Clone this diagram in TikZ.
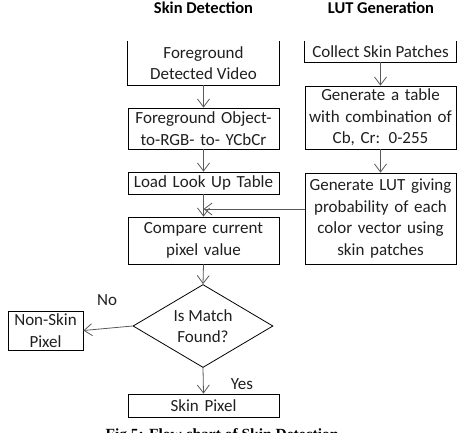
\documentclass[tikz,border=0pt]{standalone}
\usepackage{fontspec}
\setmainfont{Carlito}
\newfontfamily\capfont{Liberation Serif}
\usetikzlibrary{arrows.meta,shapes.geometric}
\definecolor{linegray}{gray}{0.35}
\definecolor{txt}{gray}{0.12}
\begin{document}
\begin{tikzpicture}[x=1pt,y=-1pt,
  box/.style={draw=black,line width=0.8pt,inner sep=0pt,align=center,text=txt,
    font=\fontsize{17}{21.5}\selectfont,text width=#1},
  box/.default=148pt,
  openbox/.style={inner sep=0pt,align=center,text=txt,font=\fontsize{17}{21.5}\selectfont},
  arr/.style={draw=linegray,line width=0.8pt,-{Straight Barb[length=8pt,width=12pt,line width=0.8pt]}},
  title/.style={font=\fontsize{16.5}{18}\selectfont\bfseries,text=black},
  lbl/.style={font=\fontsize{17}{20}\selectfont,text=txt}]
\clip (0,0) rectangle (463,432);
\useasboundingbox (0,0) rectangle (463,432);
% titles
\node[title] (t1) at (203.5,8) {Skin Detection};
\node[title] (t2) at (381,8) {LUT Generation};
% open-top boxes
\node[openbox,minimum width=151pt,minimum height=44pt] (fg) at (203.5,63) {Foreground\\Detected Video};
\draw[line width=0.8pt] (fg.north west) -- (fg.south west) -- (fg.south east) -- (fg.north east);
\node[openbox,minimum width=151pt,minimum height=21pt] (col) at (380.5,51.5) {Collect Skin Patches};
\draw[line width=0.8pt] (col.north west) -- (col.south west) -- (col.south east) -- (col.north east);
% left column
\node[box,minimum width=151pt,minimum height=41pt,text width=151pt] (rgb) at (203.5,128.5) {Foreground Object-\\to-RGB- to- YCbCr};
\node[box,minimum width=151pt,minimum height=22pt,text width=151pt] (load) at (203.5,183) {Load Look Up Table};
\node[box,minimum width=151pt,minimum height=47pt,text width=151pt] (cmp) at (203.5,240.5) {Compare current\\pixel value};
\node[draw=black,line width=0.8pt,diamond,aspect=1.69,minimum width=140pt,minimum height=83pt,inner sep=0pt,
  align=center,text=txt,font=\fontsize{17}{21.5}\selectfont] (dec) at (203,326) {Is Match\\Found?};
\node[box,minimum width=75pt,minimum height=39pt,text width=75pt] (non) at (45.5,330.5) {Non-Skin\\Pixel};
\node[box,minimum width=151pt,minimum height=23pt,text width=151pt] (skin) at (203.5,405.5) {Skin Pixel};
% right column
\node[box,minimum width=151pt,minimum height=63pt,text width=151pt] (tab) at (380.5,117.5) {Generate a table\\with combination of\\Cb, Cr: 0-255};
\node[box,minimum width=151pt,minimum height=91pt,text width=151pt] (lut) at (380.5,218.5) {Generate LUT giving\\probability of each\\color vector using\\skin patches};
% labels
\node[lbl] (no) at (107,300) {No};
\node[lbl] (yes) at (242,384) {Yes};
\node[font=\capfont\bfseries\fontsize{15.5}{18}\selectfont,text=black] (cap) at (222,436) {Fig 5: Flow chart of Skin Detection};
% connectors
\coordinate (lutin) at ([yshift=9.5pt]lut.west);
\coordinate (join) at (load.south |- lutin);
\draw[arr] (fg.south) -- (rgb.north);
\draw[arr] (rgb.south) -- (load.north);
\draw[arr] (load.south) -- (cmp.north);
\draw[arr] (lutin) -- (join);
\draw[arr] (cmp.south) -- (dec.north);
\draw[arr] (dec.west) -- (non.east);
\draw[arr] (dec.south) -- (skin.north);
\draw[arr] (col.south) -- (tab.north);
\draw[arr] (tab.south) -- (lut.north);
\end{tikzpicture}
\end{document}
